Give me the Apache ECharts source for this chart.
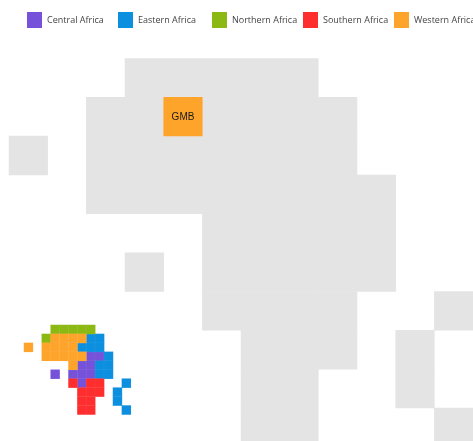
<!DOCTYPE html>
<html><head><meta charset="utf-8">
<style>html,body{margin:0;padding:0;background:#fff;overflow:hidden}#w{width:473px;height:441px;overflow:hidden}#c{width:473px;height:460px}</style>
<script src="https://cdn.jsdelivr.net/npm/echarts@6/dist/echarts.min.js"></script>
</head><body><div id="w"><div id="c"></div></div>
<script>
const regionNames = ['Central Africa','Eastern Africa','Northern Africa','Southern Africa','Western Africa'];
const regionColors = ['#7552d9','#0d8fe0','#8cb813','#ff2e2e','#ffa42b'];
const central = [[7,3],[8,3],[6,4],[7,4],[3,5],[5,5],[6,5],[7,5],[6,6]];
const eastern = [[7,1],[8,1],[6,2],[7,2],[8,2],[9,3],[8,4],[9,4],[8,5],[9,5],[11,6],[10,7],[10,8],[11,9]];
const northern = [[3,0],[4,0],[5,0],[6,0],[7,0],[2,1]];
const southern = [[5,6],[7,6],[8,6],[6,7],[7,7],[8,7],[6,8],[7,8],[6,9],[7,9]];
const western = [[3,1],[4,1],[5,1],[6,1],[0,2],[2,2],[3,2],[4,2],[5,2],[2,3],[3,3],[4,3],[5,3],[6,3],[5,4]];
const selected = [[4,1,'GMB']];
const columns = [0,1,2,3,4,5,6,7,8,9,10,11];
const rows = [0,1,2,3,4,5,6,7,8,9];
const regionCells = [central,eastern,northern,southern,western];
const legendLeft = [27,118,212,303,394];

const cat = (i,d,inv)=>({type:'category',gridIndex:i,data:d,show:false,inverse:!!inv});
const cell = c=>[c[0],c[1],1];
const option = {
  animation:false,
  textStyle:{fontFamily:'"Open Sans"'},
  legend: regionNames.map((n,i)=>({
    data:[n],left:legendLeft[i],top:12,padding:0,icon:'rect',itemWidth:15,itemHeight:16,itemGap:0,
    selectedMode:false,itemStyle:{borderWidth:0},
    textStyle:{fontFamily:'"Open Sans"',fontSize:9,color:'#444',padding:[0,0,0,0]}
  })),
  grid:[
    {left:9,top:58.4,width:464,height:388.5},
    {left:24,top:325,width:106.8,height:89.5}
  ],
  xAxis:[cat(0,columns),cat(1,columns)],
  yAxis:[cat(0,rows,true),cat(1,rows,true)],
  series:[
    {name:'All countries',type:'heatmap',xAxisIndex:0,yAxisIndex:0,silent:true,
     data:regionCells.flat().map(cell),itemStyle:{color:'#e4e4e4'}},
    {name:'Selected',type:'heatmap',xAxisIndex:0,yAxisIndex:0,silent:true,z:3,
     data:selected.map(d=>[d[0],d[1],1,d[2]]),itemStyle:{color:regionColors[4]},
     label:{show:true,offset:[0,1],formatter:p=>p.value[3],fontFamily:'"Liberation Sans"',fontSize:10,color:'#1a1a1a'}},
    ...regionNames.map((n,i)=>({name:n,type:'heatmap',xAxisIndex:1,yAxisIndex:1,silent:true,z:4,
      data:regionCells[i].map(cell),itemStyle:{color:regionColors[i],borderColor:'rgba(255,255,255,0.1)',borderWidth:0.5}}))
  ]
};
echarts.init(document.getElementById('c'),null,{renderer:'canvas'}).setOption(option);
</script></body></html>
